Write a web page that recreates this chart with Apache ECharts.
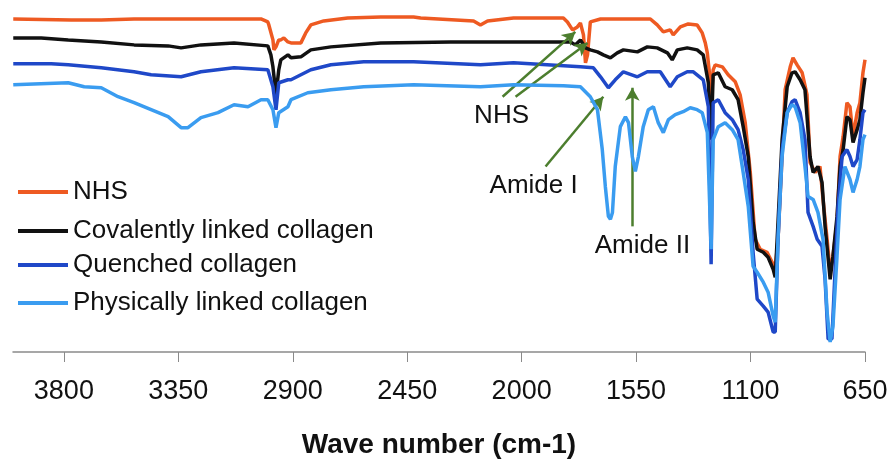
<!DOCTYPE html>
<html>
<head>
<meta charset="utf-8">
<script src="https://cdn.jsdelivr.net/npm/echarts@6/dist/echarts.min.js"></script>
<style>html,body{margin:0;padding:0;background:#fff}#c{width:891px;height:464px}</style>
</head>
<body>
<div id="c"></div>
<script>
// Wavenumber (cm-1) ticks
var tickLabels = [3800, 3350, 2900, 2450, 2000, 1550, 1100, 650];
var seriesNames = ['NHS', 'Covalently linked collagen', 'Quenched collagen', 'Physically linked collagen'];

// [wavenumber, transmittance (a.u.)]
var nhs = [
[3999,334],[3771,333],[3653,333],[3524,334],[3025,334],[2998,331],[2994,328],[2978,313],[2974,303],[2966,306],[2955,313],[2947,313],[2935,315],[2919,311],[2907,310],[2868,310],[2849,320],[2829,328],[2778,332],[2684,335],[2554,336],[2425,336],[2397,335],[2189,332],[2162,328],[2134,332],[2032,335],[1836,335],[1820,331],[1800,323],[1781,326],[1769,330],[1757,318],[1749,290],[1741,298],[1730,331],[1690,334],[1494,334],[1467,328],[1443,321],[1416,323],[1404,318],[1376,326],[1345,329],[1310,328],[1290,320],[1278,310],[1270,300],[1259,273],[1255,248],[1247,283],[1239,288],[1211,286],[1188,278],[1160,271],[1141,258],[1121,230],[1101,180],[1082,113],[1062,103],[1035,100],[1015,90],[1003,83],[992,113],[976,196],[964,263],[944,286],[933,295],[917,288],[897,280],[878,258],[866,190],[846,180],[827,186],[815,153],[799,113],[787,80],[776,96],[760,130],[748,196],[736,216],[721,250],[709,246],[697,216],[681,240],[670,250],[658,280],[650,293]
];
var covalent = [
[3999,315],[3889,315],[3783,313],[3653,311],[3524,308],[3390,307],[3339,305],[3261,308],[3131,310],[2998,307],[2986,298],[2978,286],[2966,258],[2955,283],[2947,293],[2919,298],[2907,295],[2868,296],[2829,303],[2750,306],[2554,310],[2279,311],[1808,311],[1789,308],[1769,313],[1749,305],[1730,303],[1702,301],[1679,298],[1651,295],[1624,300],[1600,303],[1545,301],[1506,306],[1467,305],[1427,300],[1408,293],[1388,303],[1349,305],[1310,303],[1286,298],[1266,270],[1255,213],[1247,278],[1227,280],[1200,266],[1172,263],[1149,253],[1129,226],[1109,196],[1090,130],[1074,103],[1050,100],[1031,95],[1011,83],[1003,75],[992,130],[976,213],[956,266],[937,280],[925,281],[905,273],[886,263],[866,196],[854,180],[835,186],[819,170],[807,126],[787,73],[776,96],[760,136],[748,186],[736,203],[721,236],[709,233],[697,210],[681,223],[670,233],[658,260],[650,275]
];
var quenched = [
[3999,289],[3850,289],[3783,288],[3653,285],[3524,281],[3457,278],[3339,276],[3261,281],[3131,285],[2998,283],[2978,266],[2966,243],[2955,270],[2919,273],[2907,273],[2868,278],[2829,283],[2750,288],[2621,291],[2425,291],[2162,288],[2032,290],[1769,286],[1718,285],[1690,276],[1659,265],[1632,273],[1600,281],[1545,276],[1506,281],[1455,281],[1416,266],[1388,276],[1349,281],[1325,281],[1286,273],[1266,246],[1255,88],[1247,250],[1227,253],[1200,240],[1172,233],[1149,223],[1129,203],[1109,173],[1090,100],[1074,53],[1050,46],[1031,40],[1011,20],[1003,20],[992,113],[976,203],[956,240],[937,251],[925,253],[905,240],[886,213],[874,140],[854,126],[838,113],[819,106],[807,73],[795,13],[780,13],[768,80],[756,146],[740,196],[721,203],[709,196],[697,186],[681,193],[670,213],[658,240],[650,243]
];
var physical = [
[3999,268],[3783,270],[3720,266],[3653,265],[3587,256],[3524,250],[3457,243],[3390,236],[3339,225],[3312,225],[3261,235],[3194,240],[3131,248],[3076,246],[3025,253],[2998,253],[2978,243],[2966,225],[2955,240],[2919,246],[2907,253],[2841,260],[2750,263],[2621,266],[2425,268],[2162,266],[2032,268],[1836,267],[1769,266],[1730,256],[1702,243],[1683,203],[1671,166],[1659,136],[1651,133],[1643,140],[1632,186],[1612,226],[1592,236],[1580,230],[1565,196],[1553,181],[1541,196],[1522,226],[1502,243],[1482,246],[1463,230],[1443,220],[1423,233],[1396,238],[1365,241],[1337,245],[1310,243],[1290,240],[1270,220],[1255,103],[1247,213],[1227,226],[1200,230],[1172,223],[1149,213],[1129,180],[1109,146],[1090,86],[1074,80],[1050,70],[1031,60],[1011,36],[1003,30],[992,113],[976,196],[956,240],[937,248],[925,246],[905,230],[886,186],[874,156],[854,153],[835,140],[815,113],[799,40],[787,10],[776,26],[760,96],[748,153],[729,186],[709,173],[697,160],[681,173],[670,186],[658,213],[650,218]
];

// Annotation arrows: [from, to] in data coordinates
var arrows = [
  [[2075,256],[1789,321]],
  [[2024,256],[1741,310]],
  [[1906,186],[1679,256]],
  [[1565,126],[1565,265]]
];
var annotations = [
  {text:'NHS', at:[2079,237]},
  {text:'Amide I', at:[1953,167]},
  {text:'Amide II', at:[1525,106]}
];

var colors = ['#EE5A22', '#111111', '#1F48C8', '#3A9CF0'];
var dataSets = [nhs, covalent, quenched, physical];
var FONT = '"Liberation Sans", Arial, Helvetica, sans-serif';

var series = dataSets.map(function(d, i){
  return {
    name: seriesNames[i], type:'line', data:d, symbol:'none', showSymbol:false,
    lineStyle:{width:3.5, color:colors[i]}, itemStyle:{color:colors[i]}, z: 2+i
  };
});
series.push({
  name:'annot', type:'line', data:[], symbol:'none', silent:true, z:10,
  markLine:{
    silent:true, symbol:['none','arrow'], symbolSize:[11,13], animation:false,
    lineStyle:{color:'#4C7E2E', width:2.5, type:'solid'},
    label:{show:false},
    data: arrows.map(function(a){ return [{coord:a[0]},{coord:a[1]}]; })
  },
  markPoint:{
    silent:true, symbol:'circle', symbolSize:1, itemStyle:{color:'rgba(0,0,0,0)'},
    label:{show:true, position:'inside', color:'#111', fontSize:26, fontFamily:FONT,
      formatter:function(p){return p.name;}},
    data: annotations.map(function(a){ return {name:a.text, coord:a.at}; })
  }
});

var legendTops = [174, 213, 247, 285];
var legends = seriesNames.map(function(n, i){
  return {
    data:[n], left:13, top:legendTops[i], orient:'vertical',
    icon:'rect', itemWidth:50, itemHeight:4, itemGap:0, selectedMode:false,
    textStyle:{fontSize:26, color:'#111', fontFamily:FONT}
  };
});

var chart = echarts.init(document.getElementById('c'), null, {renderer:'canvas'});
chart.setOption({
  animation:false,
  backgroundColor:'#fff',
  textStyle:{fontFamily:FONT},
  grid:{left:13, right:26, top:3, bottom:111, containLabel:false},
  legend: legends,
  xAxis:{
    type:'value', min:650, max:4000, inverse:true,
    name:'Wave number (cm-1)', nameLocation:'middle', nameGap:79,
    nameTextStyle:{fontSize:28, fontWeight:'bold', color:'#111', fontFamily:FONT},
    axisLine:{show:true, lineStyle:{color:'#8a8a8a', width:1.5}},
    axisTick:{show:true, length:10, inside:false, customValues:tickLabels, lineStyle:{color:'#8a8a8a', width:1}},
    axisLabel:{show:true, customValues:tickLabels, fontSize:27, color:'#111', margin:26, fontFamily:FONT,
      formatter:function(v){ return String(v); }},
    splitLine:{show:false}
  },
  yAxis:{type:'value', min:0, max:350, show:false, splitLine:{show:false}},
  series: series
});
</script>
</body>
</html>
